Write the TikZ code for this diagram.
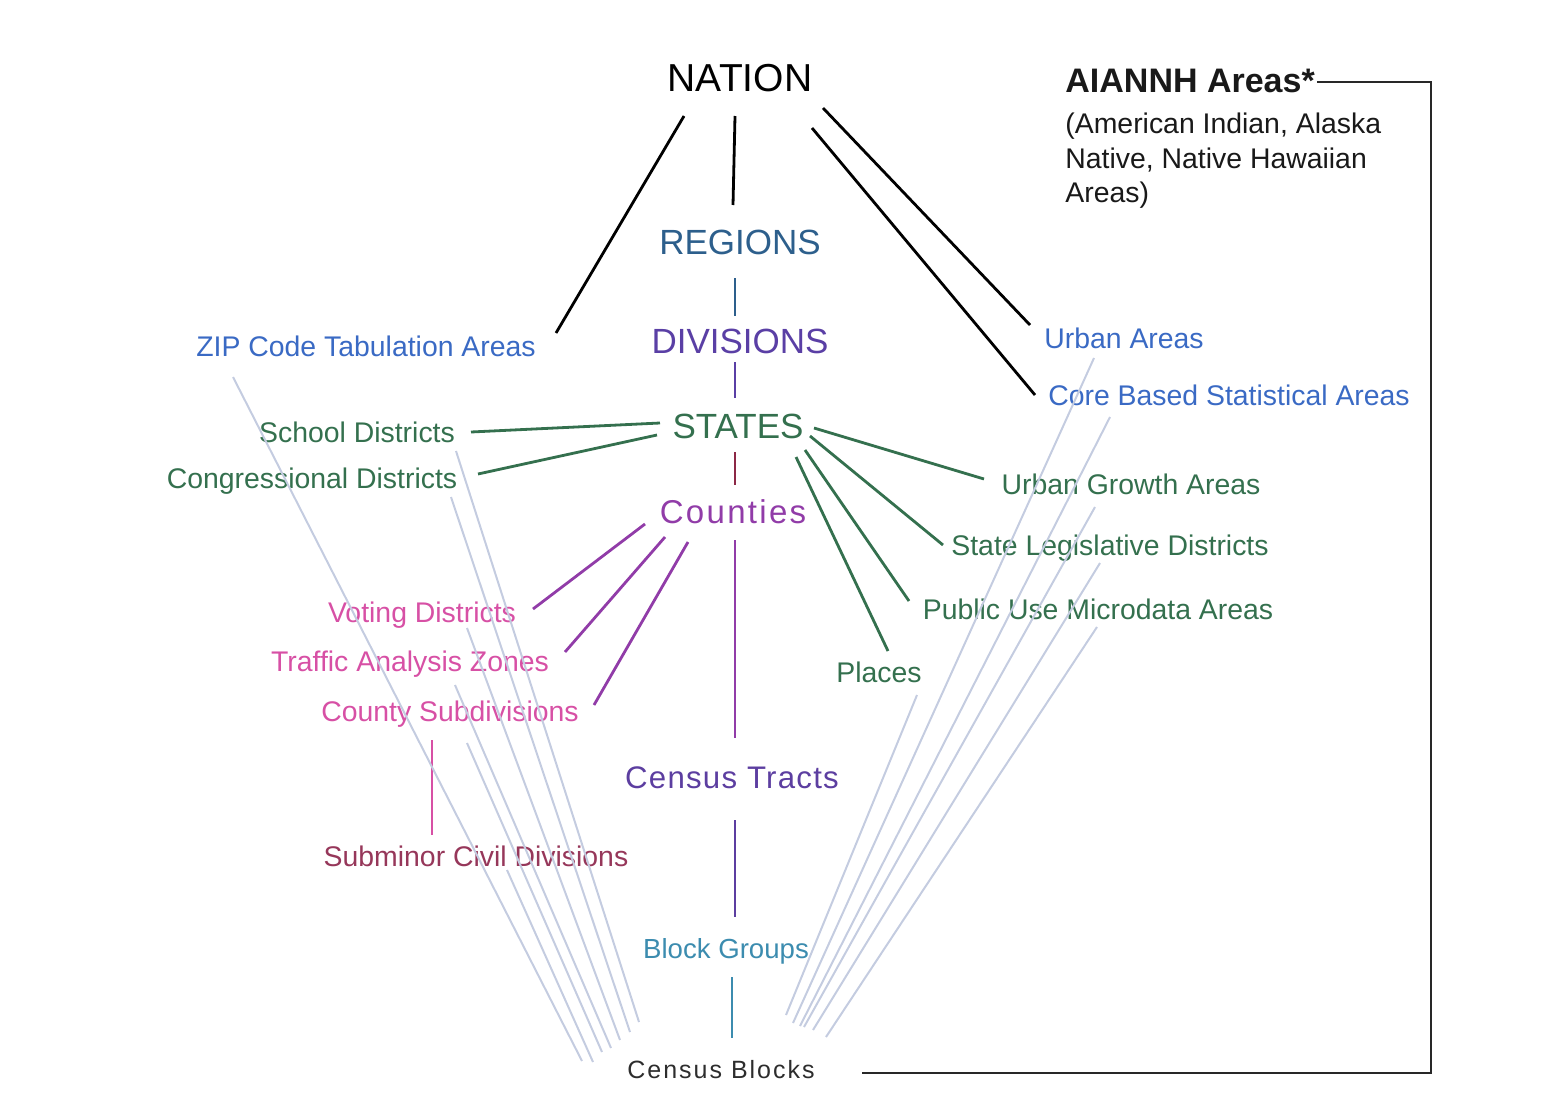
\documentclass[tikz,border=0pt]{standalone}
\usepackage{fontspec}
\setmainfont{Liberation Sans}
\usetikzlibrary{calc}

\begin{document}
\begin{tikzpicture}[x=0.5pt,y=0.5pt,yscale=-1,xscale=1,
  lbl/.style={inner sep=0pt, text height=10pt, text depth=0pt, font=\fontsize{14.2}{17}\selectfont},
  big/.style={inner sep=0pt, text height=12.6pt, text depth=0pt, font=\fontsize{17.5}{21}\selectfont},
  top/.style={inner sep=0pt, text height=14pt, text depth=0pt, font=\fontsize{19.5}{23}\selectfont},
  link/.style={line width=1.4pt},
  feed/.style={line width=1pt, color={rgb, 255:red, 196; green, 204; blue, 224 }},
  regc/.style={color={rgb, 255:red, 45; green, 95; blue, 140 }},
  divc/.style={color={rgb, 255:red, 90; green, 63; blue, 165 }},
  stc/.style={color={rgb, 255:red, 52; green, 112; blue, 78 }},
  redc/.style={color={rgb, 255:red, 140; green, 40; blue, 70 }},
  ctyc/.style={color={rgb, 255:red, 145; green, 60; blue, 168 }},
  pinkc/.style={color={rgb, 255:red, 215; green, 80; blue, 165 }},
  mcdc/.style={color={rgb, 255:red, 150; green, 55; blue, 90 }},
  trcc/.style={color={rgb, 255:red, 92; green, 62; blue, 160 }},
  bgc/.style={color={rgb, 255:red, 60; green, 140; blue, 175 }},
  bluec/.style={color={rgb, 255:red, 58; green, 106; blue, 196 }}
]
\useasboundingbox (0,0) rectangle (1546,1108);

% Text Node
\node [top] (nation) at (740,77) {NATION};
% Text Node
\node [big, regc] (regions) at (740,242) {REGIONS};
% Text Node
\node [big, divc] (divisions) at (740,341) {DIVISIONS};
% Text Node
\node [big, stc] (states) at (738,426) {STATES};
% Text Node
\node [inner sep=0pt, text height=11.7pt, text depth=0pt, ctyc, font=\fontsize{16.5}{20}\selectfont\addfontfeature{LetterSpace=7}] (counties) at (733,512) {Counties};
% Text Node
\node [inner sep=0pt, text height=11.2pt, text depth=0pt, trcc, font=\fontsize{15.6}{19}\selectfont\addfontfeature{LetterSpace=4}] (tracts) at (732,777) {Census Tracts};
% Text Node
\node [lbl, bgc, font=\fontsize{13.8}{17}\selectfont] (bgroups) at (726,948) {Block Groups};
% Text Node
\node [inner sep=0pt, text height=8.9pt, text depth=0pt, color={rgb, 255:red, 45; green, 45; blue, 45 }, font=\fontsize{12.5}{15}\selectfont\addfontfeature{LetterSpace=8}] (blocks) at (721,1070) {Census Blocks};
% Text Node
\node [lbl, bluec] (zcta) at (366,346) {ZIP Code Tabulation Areas};
% Text Node
\node [lbl, stc] (school) at (357,432) {School Districts};
% Text Node
\node [lbl, stc] (congress) at (312,478) {Congressional Districts};
% Text Node
\node [lbl, pinkc] (voting) at (422,612) {Voting Districts};
% Text Node
\node [lbl, pinkc] (taz) at (410,661) {Traffic Analysis Zones};
% Text Node
\node [lbl, pinkc] (cousub) at (450,711) {County Subdivisions};
% Text Node
\node [lbl, mcdc] (submcd) at (476,856) {Subminor Civil Divisions};
% Text Node
\node [lbl, bluec] (urban) at (1124,338) {Urban Areas};
% Text Node
\node [lbl, bluec] (cbsa) at (1229,395) {Core Based Statistical Areas};
% Text Node
\node [lbl, stc] (uga) at (1131,484) {Urban Growth Areas};
% Text Node
\node [lbl, stc] (sldist) at (1110,545) {State Legislative Districts};
% Text Node
\node [lbl, stc] (puma) at (1098,609) {Public Use Microdata Areas};
% Text Node
\node [lbl, stc] (places) at (879,672) {Places};
% Text Node
\node [anchor=west, inner sep=0pt, text height=12.4pt, text depth=0pt, color={rgb, 255:red, 25; green, 25; blue, 25 }, font=\bfseries\fontsize{17}{20}\selectfont] (aiannh) at (1065,80) {AIANNH Areas*};
% Text Node
\node [anchor=north west, inner sep=0pt, align=left, color={rgb, 255:red, 25; green, 25; blue, 25 }, font=\fontsize{14.2}{17.25}\selectfont] (aiannhsub) at (1065,113) {(American Indian, Alaska\\Native, Native Hawaiian\\Areas)};

%Straight Lines
\draw [link] ($(nation)+(-56,39)$) -- ($(zcta)+(190,-13)$);
\draw [link] ($(nation)+(-5,39)$) -- ($(regions)+(-7,-37)$);
\draw [link] ($(nation)+(83,31)$) -- ($(urban)+(-94,-13)$);
\draw [link] ($(nation)+(72,51)$) -- ($(cbsa)+(-194,0)$);
%Straight Lines
\draw [link, regc] ($(regions)+(-5,36)$) -- ($(divisions)+(-5,-25)$);
\draw [link, divc] ($(divisions)+(-5,21)$) -- ($(states)+(-3,-28)$);
\draw [link, redc] ($(states)+(-3,26)$) -- ($(counties)+(2,-27)$);
%Straight Lines
\draw [link, stc] ($(states)+(-78,-3)$) -- ($(school)+(114,0)$);
\draw [link, stc] ($(states)+(-81,9)$) -- ($(congress)+(166,-4)$);
\draw [link, stc] ($(states)+(76,2)$) -- ($(uga)+(-147,-5)$);
\draw [link, stc] ($(states)+(72,10)$) -- ($(sldist)+(-167,0)$);
\draw [link, stc] ($(states)+(67,24)$) -- ($(puma)+(-189,-8)$);
\draw [link, stc] ($(states)+(58,31)$) -- ($(places)+(9,-21)$);
%Straight Lines
\draw [link, ctyc] ($(counties)+(-88,12)$) -- ($(voting)+(111,-3)$);
\draw [link, ctyc] ($(counties)+(-68,25)$) -- ($(taz)+(155,-9)$);
\draw [link, ctyc] ($(counties)+(-45,30)$) -- ($(cousub)+(144,-6)$);
\draw [link, ctyc] ($(counties)+(2,28)$) -- ($(tracts)+(3,-39)$);
\draw [link, trcc] ($(tracts)+(3,43)$) -- ($(bgroups)+(9,-31)$);
\draw [link, bgc] ($(bgroups)+(6,29)$) -- ($(blocks)+(11,-32)$);
\draw [link, pinkc] ($(cousub)+(-18,29)$) -- ($(submcd)+(-44,-21)$);
%Straight Lines
\draw [line width=0.75pt, color={rgb, 255:red, 40; green, 40; blue, 40 }] ($(aiannh.east)+(2,2)$) -- ++(114,0) |- ($(blocks)+(141,3)$);

%Straight Lines
\draw [feed] ($(zcta)+(-133,31)$) -- ($(blocks)+(-139,-9)$);
\draw [feed] ($(school)+(99,19)$) -- ($(blocks)+(-82,-48)$);
\draw [feed] ($(congress)+(139,19)$) -- ($(blocks)+(-91,-38)$);
\draw [feed] ($(voting)+(45,16)$) -- ($(blocks)+(-101,-30)$);
\draw [feed] ($(taz)+(45,24)$) -- ($(blocks)+(-110,-22)$);
\draw [feed] ($(cousub)+(17,32)$) -- ($(blocks)+(-119,-18)$);
\draw [feed] ($(submcd)+(31,14)$) -- ($(blocks)+(-128,-8)$);
%Straight Lines
\draw [feed] ($(places)+(38,23)$) -- ($(blocks)+(65,-55)$);
\draw [feed] ($(urban)+(-30,20)$) -- ($(blocks)+(72,-47)$);
\draw [feed] ($(cbsa)+(-119,22)$) -- ($(blocks)+(79,-44)$);
\draw [feed] ($(uga)+(-36,23)$) -- ($(blocks)+(83,-43)$);
\draw [feed] ($(sldist)+(-10,18)$) -- ($(blocks)+(92,-40)$);
\draw [feed] ($(puma)+(-1,18)$) -- ($(blocks)+(105,-33)$);

\end{tikzpicture}
\end{document}
